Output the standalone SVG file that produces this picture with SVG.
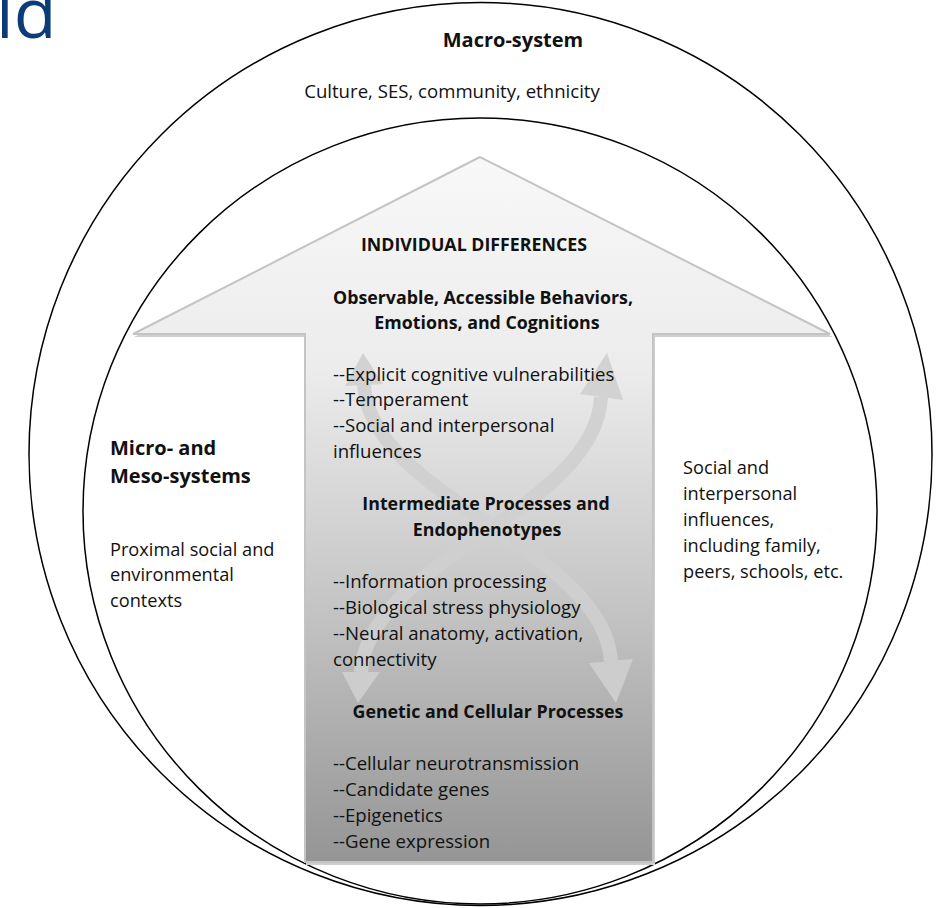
<svg xmlns="http://www.w3.org/2000/svg" width="939" height="908" viewBox="0 0 939 908">
  <defs>
    <linearGradient id="bodyFill" x1="0" y1="157" x2="0" y2="862" gradientUnits="userSpaceOnUse">
      <stop offset="0" stop-color="#f8f8f8"/>
      <stop offset="0.3" stop-color="#ececec"/>
      <stop offset="0.6" stop-color="#c9c9c9"/>
      <stop offset="1" stop-color="#959595"/>
    </linearGradient>
    <style>
      .ring { fill: none; stroke: #000; stroke-width: 1.5; }
      .t { font-family: "Open Sans", "Noto Sans", "Liberation Sans", sans-serif; font-size: 18.6px; fill: #111; }
      .side { font-size: 18.2px; }
      .b { font-weight: bold; font-size: 17.8px; }
      .h { font-weight: bold; font-size: 20px; }
      .mid { text-anchor: middle; }
      .flow { fill: #d0d0d0; stroke: none; }
      .flowline { fill: none; stroke: #d0d0d0; stroke-width: 14; }
    </style>
  </defs>

  <rect width="939" height="908" fill="#fff"/>

  <!-- slide title fragment -->
  <text x="-4" y="38" font-family="'Open Sans', 'Noto Sans', sans-serif" font-size="70" fill="#0b3c78">ld</text>

  <!-- nested systems -->
  <g id="macro-system">
    <ellipse class="ring" cx="480.5" cy="454" rx="451.5" ry="451.5"/>
    <text class="t h mid" x="513" y="47">Macro-system</text>
    <text class="t mid" x="452" y="98">Culture, SES, community, ethnicity</text>
  </g>

  <g id="micro-meso-systems">
    <ellipse class="ring" cx="480" cy="511" rx="397" ry="393"/>
    <text class="t h" x="110" y="455">Micro- and</text>
    <text class="t h" x="110" y="483">Meso-systems</text>
    <text class="t side" x="110" y="556">Proximal social and</text>
    <text class="t side" x="110" y="581">environmental</text>
    <text class="t side" x="110" y="607">contexts</text>
    <text class="t side" x="683" y="474">Social and</text>
    <text class="t side" x="683" y="500">interpersonal</text>
    <text class="t side" x="683" y="526">influences,</text>
    <text class="t side" x="683" y="552">including family,</text>
    <text class="t side" x="683" y="578">peers, schools, etc.</text>
  </g>

  <!-- individual differences block arrow -->
  <g id="individual-differences">
    <polygon points="480,160 134,337 306,337 306,865 655,865 655,337 833,337" fill="#cfcfcf"/>
    <polygon points="480,157 133,334 305,334 305,862 653,862 653,334 830,334" fill="url(#bodyFill)" stroke="#c4c4c4" stroke-width="2" stroke-linejoin="miter"/>
  </g>

  <!-- two-way flow between levels -->
  <g id="connectors">
    <g id="flow-up" opacity="0.9">
      <path class="flowline" d="M361,672 C368,560 596,510 601,397"/>
      <polygon class="flow" points="607,353 580,394 623,400"/>
      <polygon class="flow" points="358,703 342,672 380,672"/>
    </g>
    <g id="flow-down" opacity="0.9">
      <path class="flowline" d="M364,385 C370,497 604,549 611,661"/>
      <polygon class="flow" points="363,353 345,386 383,384"/>
      <polygon class="flow" points="616,703 589,663 633,659"/>
    </g>
  </g>

  <g id="levels">
    <text class="t b mid" x="474" y="251">INDIVIDUAL DIFFERENCES</text>
    <text class="t b mid" x="483" y="304">Observable, Accessible Behaviors,</text>
    <text class="t b mid" x="487" y="329">Emotions, and Cognitions</text>
    <text class="t" x="333" y="381">--Explicit cognitive vulnerabilities</text>
    <text class="t" x="333" y="406">--Temperament</text>
    <text class="t" x="333" y="432">--Social and interpersonal</text>
    <text class="t" x="333" y="458">influences</text>
    <text class="t b mid" x="486" y="510">Intermediate Processes and</text>
    <text class="t b mid" x="487" y="536">Endophenotypes</text>
    <text class="t" x="333" y="588">--Information processing</text>
    <text class="t" x="333" y="614">--Biological stress physiology</text>
    <text class="t" x="333" y="640">--Neural anatomy, activation,</text>
    <text class="t" x="333" y="666">connectivity</text>
    <text class="t b mid" x="488" y="718">Genetic and Cellular Processes</text>
    <text class="t" x="333" y="770">--Cellular neurotransmission</text>
    <text class="t" x="333" y="796">--Candidate genes</text>
    <text class="t" x="333" y="822">--Epigenetics</text>
    <text class="t" x="333" y="848">--Gene expression</text>
  </g>
</svg>
